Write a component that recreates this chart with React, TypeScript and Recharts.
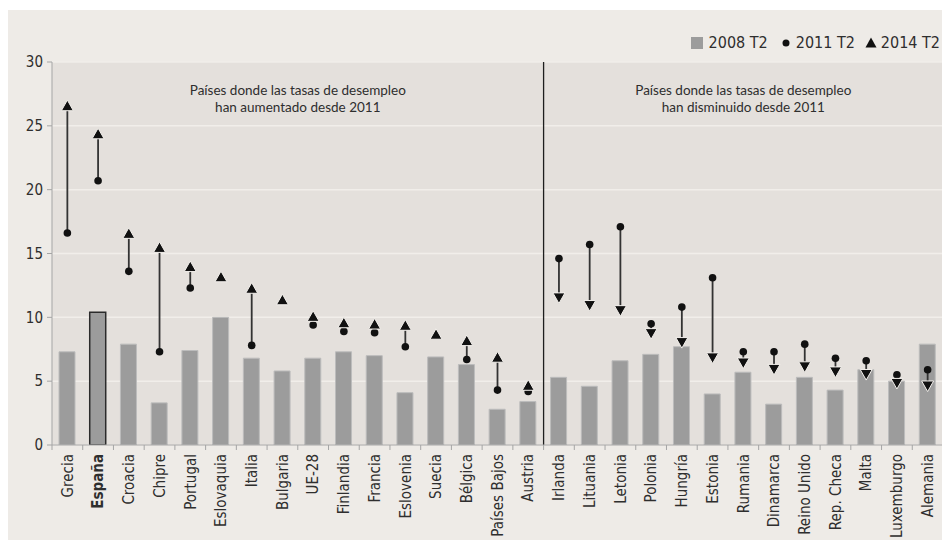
import React from 'react';
import {
  ComposedChart, Bar, Scatter, XAxis, YAxis, CartesianGrid, ErrorBar,
  ReferenceLine, ReferenceArea, Legend, Cell
} from 'recharts';

// tasas de desempleo (%), segundo trimestre
const paises = [
  'Grecia', 'España', 'Croacia', 'Chipre', 'Portugal', 'Eslovaquia', 'Italia',
  'Bulgaria', 'UE-28', 'Finlandia', 'Francia', 'Eslovenia', 'Suecia', 'Bélgica',
  'Países Bajos', 'Austria', 'Irlanda', 'Lituania', 'Letonia', 'Polonia',
  'Hungría', 'Estonia', 'Rumania', 'Dinamarca', 'Reino Unido', 'Rep. Checa',
  'Malta', 'Luxemburgo', 'Alemania'
];
const t2008 = [
  7.3, 10.4, 7.9, 3.3, 7.4, 10.0, 6.8, 5.8, 6.8, 7.3, 7.0, 4.1, 6.9, 6.3,
  2.8, 3.4, 5.3, 4.6, 6.6, 7.1, 7.7, 4.0, 5.7, 3.2, 5.3, 4.3, 5.9, 5.0, 7.9
];
// null = el punto queda oculto bajo el triángulo
const t2011: (number | null)[] = [
  16.6, 20.7, 13.6, 7.3, 12.3, null, 7.8, null, 9.4, 8.9, 8.8, 7.7, null, 6.7,
  4.3, 4.2, 14.6, 15.7, 17.1, 9.5, 10.8, 13.1, 7.3, 7.3, 7.9, 6.8, 6.6, 5.5, 5.9
];
const t2014 = [
  26.6, 24.4, 16.6, 15.5, 14.0, 13.2, 12.3, 11.4, 10.1, 9.6, 9.5, 9.4, 8.7, 8.2,
  6.9, 4.7, 11.5, 10.9, 10.5, 8.7, 8.0, 6.8, 6.4, 5.9, 6.1, 5.7, 5.5, 4.8, 4.6
];
const yTicks = [0, 5, 10, 15, 20, 25, 30];
const notaSube = ['Países donde las tasas de desempleo', 'han aumentado desde 2011'];
const notaBaja = ['Países donde las tasas de desempleo', 'han disminuido desde 2011'];

const data = paises.map((name, i) => {
  const a = t2011[i];
  const b = t2014[i];
  const up = a == null || b >= a;
  return {
    name,
    t2008: t2008[i],
    t2011: a,
    t2014: b,
    up,
    err: a == null ? [0, 0] : up ? [b - a, 0] : [0, a - b],
  };
});

const FONT = '"Liberation Sans Narrow", "DejaVu Sans Condensed", sans-serif';
const INK = '#2e2e2e';

const Punto = (props: any) => {
  const { cx, cy } = props;
  if (cx == null || cy == null) return null;
  return <circle cx={cx} cy={cy} r={3.8} fill="#111" />;
};

const Triangulo = (props: any) => {
  const { cx, cy, payload } = props;
  if (cx == null || cy == null) return null;
  const w = 6;
  const h = 5.3;
  const d = payload.up
    ? `M${cx},${cy - h} L${cx + w},${cy + h} L${cx - w},${cy + h} Z`
    : `M${cx},${cy + h} L${cx + w},${cy - h} L${cx - w},${cy - h} Z`;
  return <path d={d} fill="#111" stroke="#f4f1ed" strokeWidth={1} />;
};

const PaisTick = (props: any) => {
  const { x, y, payload, index } = props;
  const half = payload.offset ?? 0;
  const last = index === paises.length - 1;
  const ty = y + 4;
  return (
    <g>
      <line x1={x - half} x2={x - half} y1={y - 5} y2={y} stroke="#a5a5a5" />
      {last && <line x1={x + half} x2={x + half} y1={y - 5} y2={y} stroke="#a5a5a5" />}
      <text
        x={x}
        y={ty}
        transform={`rotate(-90 ${x} ${ty})`}
        textAnchor="end"
        dy="0.35em"
        fontFamily={FONT}
        fontSize={15}
        fontWeight={payload.value === 'España' ? 700 : 400}
        fill={INK}
      >
        {payload.value}
      </text>
    </g>
  );
};

const Nota = (props: any) => {
  const { viewBox, lines } = props;
  if (!viewBox) return null;
  const cx = viewBox.x + viewBox.width / 2;
  return (
    <text x={cx} y={viewBox.y + 33} textAnchor="middle" fontFamily="Lato, sans-serif" fontSize={13.5} fill={INK}>
      <tspan x={cx}>{lines[0]}</tspan>
      <tspan x={cx} dy={17}>{lines[1]}</tspan>
    </text>
  );
};

const Leyenda = () => (
  <div style={{ display: 'flex', alignItems: 'center', justifyContent: 'flex-end', fontFamily: FONT, fontSize: 16, color: INK, whiteSpace: 'nowrap' }}>
    <span style={{ width: 12, height: 12, background: '#9c9c9c', display: 'inline-block', marginRight: 6 }} />
    <span style={{ marginRight: 14 }}>2008 T2</span>
    <svg width={8} height={8} style={{ marginRight: 6 }}><circle cx={4} cy={4} r={3.5} fill="#111" /></svg>
    <span style={{ marginRight: 10 }}>2011 T2</span>
    <svg width={12} height={11} style={{ marginRight: 4 }}><path d="M6,0.5 L11.5,10.5 L0.5,10.5 Z" fill="#111" /></svg>
    <span>2014 T2</span>
  </div>
);

export default function App() {
  return (
    <div style={{ width: 938, height: 530, marginTop: 2, background: '#eeebe7' }}>
      <ComposedChart
        width={938}
        height={530}
        data={data}
        margin={{ top: 52, right: 3, left: 0, bottom: 0 }}
        barSize={16}
      >
        <CartesianGrid vertical={false} fill="#e4e0dc" stroke="#f1eeea" strokeWidth={1.5} />
        <XAxis
          dataKey="name"
          interval={0}
          height={95}
          tickSize={5}
          tickMargin={0}
          tickLine={false}
          axisLine={{ stroke: '#a5a5a5' }}
          tick={<PaisTick />}
        />
        <YAxis
          domain={[0, 30]}
          ticks={yTicks}
          width={44}
          tickSize={5}
          tickMargin={4}
          axisLine={{ stroke: '#a5a5a5' }}
          tickLine={{ stroke: '#a5a5a5' }}
          tick={{ fontFamily: FONT, fontSize: 15, fill: INK }}
          allowDataOverflow
        />
        <Legend
          verticalAlign="middle"
          align="center"
          wrapperStyle={{ top: 23, right: 6, left: 'auto', width: 300 }}
          content={() => <Leyenda />}
        />
        <ReferenceArea x1="Grecia" x2="Austria" fillOpacity={0} strokeOpacity={0} ifOverflow="visible" label={<Nota lines={notaSube} />} />
        <ReferenceArea x1="Irlanda" x2="Alemania" fillOpacity={0} strokeOpacity={0} ifOverflow="visible" label={<Nota lines={notaBaja} />} />
        <Bar dataKey="t2008" fill="#9c9c9c" stroke="#bcbcbc" strokeWidth={1} isAnimationActive={false}>
          {data.map((d) => (
            <Cell
              key={d.name}
              stroke={d.name === 'España' ? '#2b2b2b' : '#bcbcbc'}
              strokeWidth={d.name === 'España' ? 1.5 : 1}
            />
          ))}
        </Bar>
        <ReferenceLine x="Austria" position="end" stroke="#1e1e1e" strokeWidth={1.3} />
        <Scatter dataKey="t2011" shape={<Punto />} isAnimationActive={false} />
        <Scatter dataKey="t2014" shape={<Triangulo />} isAnimationActive={false}>
          <ErrorBar dataKey="err" direction="y" width={0} stroke="#333" strokeWidth={1.8} />
        </Scatter>
      </ComposedChart>
    </div>
  );
}
